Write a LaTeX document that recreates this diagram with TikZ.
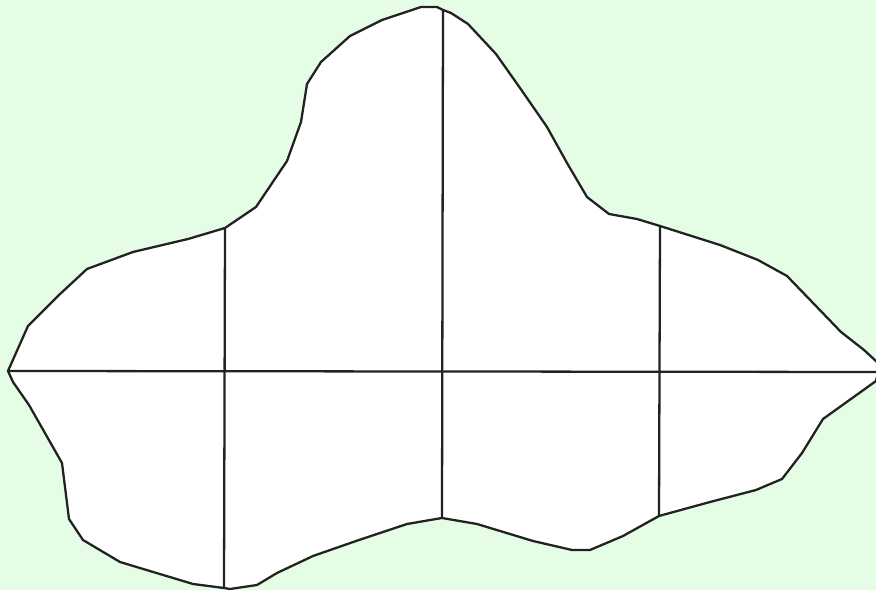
\documentclass[tikz,border=0pt]{standalone}
\usetikzlibrary{math}
\definecolor{meadow}{RGB}{228,253,228}
\definecolor{inkline}{RGB}{34,34,34}

\begin{document}
\begin{tikzpicture}[x=0.02cm, y=-0.02cm]
	% Constants
	\tikzmath{
		\picwidth = 876; \picheight = 590;
		\linew = 1.3;
	}

	% Background
	\useasboundingbox[fill=meadow] (0,0) rectangle (\picwidth,\picheight);

	% Grid end points on the outline
	\coordinate (west) at (8,371);
	\coordinate (east) at (878,372);
	\coordinate (colAtop) at (225,228);
	\coordinate (colAbot) at (224,588);
	\coordinate (colBtop) at (443,10);
	\coordinate (colBbot) at (442,518);
	\coordinate (colCtop) at (660,226);
	\coordinate (colCbot) at (659,516);

	% Blob
	\fill[white] (west) -- (28,326) -- (59,295) -- (87,269) -- (133,252) -- (188,239) -- (colAtop)
		-- (256,207) -- (287,161) -- (301,122) -- (307,84) -- (321,62) -- (350,36) -- (382,20)
		-- (421,7) -- (437,7) -- (colBtop) -- (451,13) -- (468,24) -- (496,54) -- (520,88)
		-- (547,127) -- (567,163) -- (587,197) -- (609,214) -- (637,219) -- (colCtop)
		-- (720,245) -- (758,260) -- (787,276) -- (841,332) -- (864,350) -- (877,362) -- (east)
		-- (876,381) -- (823,419) -- (802,453) -- (782,479) -- (756,490) -- (710,502) -- (colCbot)
		-- (623,536) -- (590,550) -- (572,550) -- (533,541) -- (477,524) -- (colBbot)
		-- (407,524) -- (359,540) -- (313,556) -- (277,573) -- (257,585) -- (230,589) -- (colAbot)
		-- (193,584) -- (120,562) -- (83,540) -- (69,519) -- (62,463) -- (29,405) -- (13,382) -- cycle;

	\begin{scope}[draw=inkline, line width=\linew pt, line join=round]
		% Cross lines
		\draw (west) -- (east);
		\foreach \col in {A, B, C} {
			\draw (col\col top) -- (col\col bot);
		}
		% Outline
		\draw (west) -- (28,326) -- (59,295) -- (87,269) -- (133,252) -- (188,239) -- (colAtop)
			-- (256,207) -- (287,161) -- (301,122) -- (307,84) -- (321,62) -- (350,36) -- (382,20)
			-- (421,7) -- (437,7) -- (colBtop) -- (451,13) -- (468,24) -- (496,54) -- (520,88)
			-- (547,127) -- (567,163) -- (587,197) -- (609,214) -- (637,219) -- (colCtop)
			-- (720,245) -- (758,260) -- (787,276) -- (841,332) -- (864,350) -- (877,362) -- (east)
			-- (876,381) -- (823,419) -- (802,453) -- (782,479) -- (756,490) -- (710,502) -- (colCbot)
			-- (623,536) -- (590,550) -- (572,550) -- (533,541) -- (477,524) -- (colBbot)
			-- (407,524) -- (359,540) -- (313,556) -- (277,573) -- (257,585) -- (230,589) -- (colAbot)
			-- (193,584) -- (120,562) -- (83,540) -- (69,519) -- (62,463) -- (29,405) -- (13,382) -- cycle;
	\end{scope}
\end{tikzpicture}
\end{document}
